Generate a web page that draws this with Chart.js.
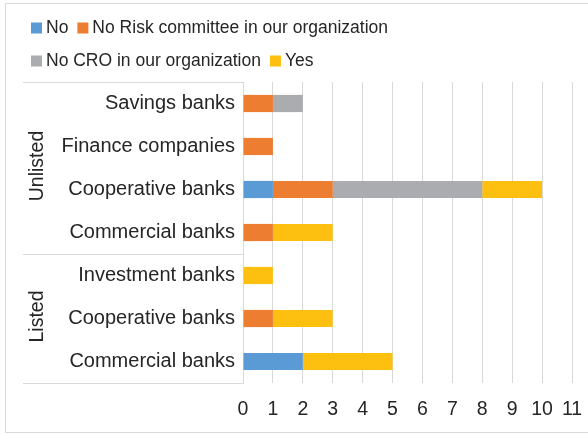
<!DOCTYPE html>
<html>
<head>
<meta charset="utf-8">
<style>
  html, body { margin: 0; padding: 0; background: #fff; }
  #wrap { width: 588px; height: 434px; position: relative; }
</style>
<script src="https://cdn.jsdelivr.net/npm/chart.js@4/dist/chart.umd.min.js"></script>
</head>
<body>
<div id="wrap"><canvas id="myChart" width="588" height="434"></canvas></div>
<script>
const categories = ['Savings banks', 'Finance companies', 'Cooperative banks', 'Commercial banks',
                    'Investment banks', 'Cooperative banks', 'Commercial banks'];
const groupNames = ['Unlisted', 'Listed'];
const groupSizes = [4, 3];

const seriesNames = ['No', 'No Risk committee in our organization', 'No CRO in our organization', 'Yes'];
const noValues = [0, 0, 1, 0, 0, 0, 2];
const noRiskCommitteeValues = [1, 1, 2, 1, 0, 1, 0];
const noCroValues = [1, 0, 5, 0, 0, 0, 0];
const yesValues = [0, 0, 2, 2, 1, 2, 3];

const xMin = 0;
const xMax = 11;

const colors = ['#5B9BD5', '#ED7D31', '#ABACAF', '#FDC010'];
const textColor = '#262626';
const lineColor = '#D9D9D9';
const fontFamily = '"Liberation Sans", Arial, Helvetica, sans-serif';

Chart.defaults.font.family = fontFamily;
Chart.defaults.color = textColor;

// outer frame of the chart
const frame = {
    id: 'frame',
    beforeDraw(chart) {
        const c = chart.ctx;
        c.save();
        c.strokeStyle = lineColor;
        c.lineWidth = 1;
        c.strokeRect(5.5, 3.5, chart.width + 10, chart.height - 5);
        c.restore();
    }
};

// legend drawn by hand so the box/text spacing stays tight
const squareLegend = {
    id: 'squareLegend',
    afterDraw(chart) {
        const c = chart.ctx;
        const box = 11;
        const rows = [28, 61];
        let x = 31, row = 0;
        c.save();
        c.font = '17.5px ' + fontFamily;
        c.textBaseline = 'middle';
        c.textAlign = 'left';
        chart.data.datasets.forEach((ds) => {
            const w = box + 4 + c.measureText(ds.label).width;
            if (x + w > chart.width - 15) {
                row++;
                x = 31;
            }
            const y = rows[row];
            c.fillStyle = ds.backgroundColor;
            c.fillRect(x, y - box / 2, box, box);
            c.fillStyle = textColor;
            c.fillText(ds.label, x + box + 4, y);
            x += w + 9;
        });
        c.restore();
    }
};

// group brackets and rotated group names on the category axis
const groupAxis = {
    id: 'groupAxis',
    afterDraw(chart) {
        const c = chart.ctx;
        const y = chart.scales.y;
        const area = chart.chartArea;
        const left = 23;
        const half = (y.getPixelForValue(1) - y.getPixelForValue(0)) / 2;
        c.save();
        c.strokeStyle = lineColor;
        c.lineWidth = 1;
        let start = 0;
        const edges = [area.top];
        groupSizes.forEach((n, g) => {
            const top = y.getPixelForValue(start) - half;
            const bottom = y.getPixelForValue(start + n - 1) + half;
            edges.push(bottom);
            c.save();
            c.translate(38, (top + bottom) / 2 - 2);
            c.rotate(-Math.PI / 2);
            c.font = '19.5px ' + fontFamily;
            c.fillStyle = textColor;
            c.textAlign = 'center';
            c.textBaseline = 'middle';
            c.fillText(groupNames[g], 0, 0);
            c.restore();
            start += n;
        });
        edges.forEach((e) => {
            const yy = Math.round(e) + 0.5;
            c.beginPath();
            c.moveTo(left, yy);
            c.lineTo(area.left, yy);
            c.stroke();
        });
        c.restore();
    }
};

const ctx = document.getElementById('myChart');

new Chart(ctx, {
    type: 'bar',
    data: {
        labels: categories,
        datasets: [
            { label: seriesNames[0], data: noValues, backgroundColor: colors[0] },
            { label: seriesNames[1], data: noRiskCommitteeValues, backgroundColor: colors[1] },
            { label: seriesNames[2], data: noCroValues, backgroundColor: colors[2] },
            { label: seriesNames[3], data: yesValues, backgroundColor: colors[3] }
        ]
    },
    options: {
        indexAxis: 'y',
        responsive: false,
        animation: false,
        layout: {
            padding: { top: 82, right: 16, bottom: 0, left: 0 }
        },
        datasets: {
            bar: {
                categoryPercentage: 0.4,
                barPercentage: 1,
                borderWidth: 0
            }
        },
        plugins: {
            legend: { display: false },
            title: { display: false },
            tooltip: { enabled: false }
        },
        scales: {
            x: {
                stacked: true,
                min: xMin,
                max: xMax,
                afterFit(scale) {
                    scale.height = 51;
                    scale.paddingLeft = 0;
                    scale.paddingRight = 0;
                },
                ticks: {
                    stepSize: 1,
                    padding: 15,
                    color: textColor,
                    font: { size: 19.5 }
                },
                grid: {
                    color: lineColor,
                    drawTicks: false
                },
                border: { display: false }
            },
            y: {
                stacked: true,
                afterFit(scale) { scale.width = 243; },
                ticks: {
                    autoSkip: false,
                    padding: 8,
                    color: textColor,
                    font: { size: 20 }
                },
                grid: {
                    display: false,
                    drawTicks: false
                },
                border: { display: true, color: lineColor }
            }
        }
    },
    plugins: [frame, squareLegend, groupAxis]
});
</script>
</body>
</html>
